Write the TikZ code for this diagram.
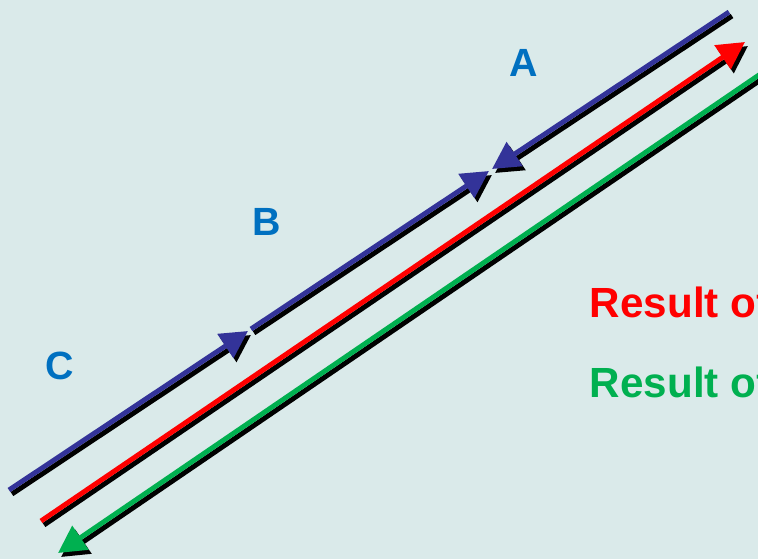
\documentclass[tikz,border=0pt]{standalone}
\usepackage{fontspec}
\setmainfont{Liberation Sans}
\usetikzlibrary{arrows.meta}
\definecolor{bgcol}{HTML}{DAEAEA}
\definecolor{vecblue}{HTML}{333399}
\definecolor{vecred}{HTML}{FF0000}
\definecolor{vecgreen}{HTML}{00B050}
\definecolor{labblue}{HTML}{0070C0}
\begin{document}
\begin{tikzpicture}[x=0.025cm,y=-0.025cm,
  vec/.style={line width=3.5pt,-{Triangle[length=0.68cm,width=0.7cm]}},
  lab/.style={font=\fontsize{28}{30}\selectfont\bfseries,text=labblue},
  res/.style={font=\fontsize{30}{32}\selectfont\bfseries,anchor=base west}]
%background and frame of the picture
\fill[bgcol] (0,0) rectangle (758,559);
\useasboundingbox (0,0) rectangle (758,559);
\clip (0,0) rectangle (758,559);
% end points of the three blue pieces
\coordinate(c0) at (9,490);
\coordinate(c1) at (248,331);
\coordinate(b0) at (251,329);
\coordinate(b1) at (489,171);
\coordinate(a0) at (729,12);
\coordinate(a1) at (492,169);
% the two result lines
\coordinate(r0) at (41,521);
\coordinate(r1) at (745,42);
\coordinate(g0) at (800,47);
\coordinate(g1) at (58,553);
% black shadow first, then the coloured vectors on top
\foreach \shx/\shy/\colc/\colr/\colg in {3/4/black/black/black,0/0/vecblue/vecred/vecgreen}{
  \begin{scope}[transform canvas={shift={(\shx,\shy)}}]
    \draw[vec,\colc] (c0) -- (c1);
    \draw[vec,\colc] (b0) -- (b1);
    \draw[vec,\colc] (a0) -- (a1);
    \draw[vec,\colr] (r0) -- (r1);
    \draw[vec,\colg] (g0) -- (g1);
  \end{scope}
}
% labels
\node[lab](la) at (524,63){A};
\node[lab](lb) at (267,222){B};
\node[lab](lc) at (60,366){C};
\node[res,text=vecred](resred) at (585,317){Result of};
\node[res,text=vecgreen](resgreen) at (585,397){Result of};
\end{tikzpicture}
\end{document}
